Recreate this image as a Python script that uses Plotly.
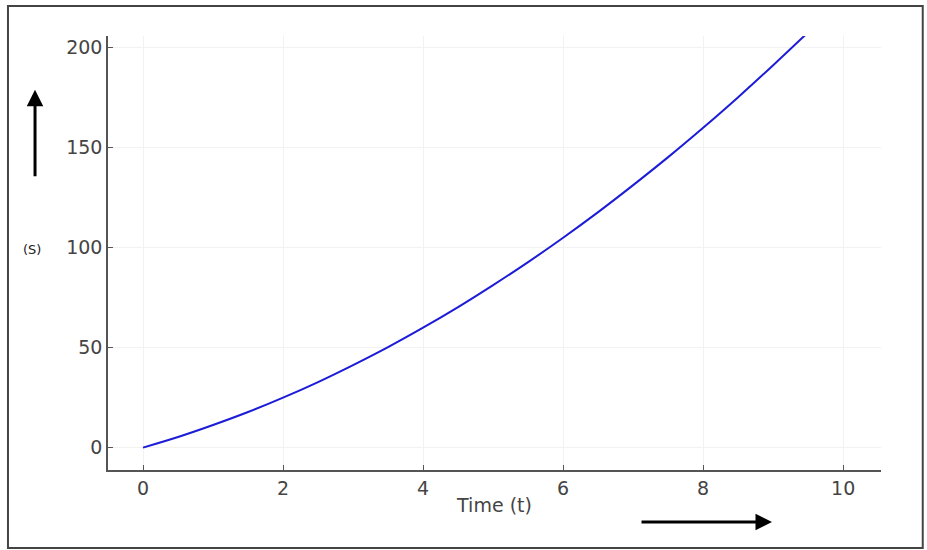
import plotly.graph_objects as go

# distance vs time
time_t = [0, 0.5, 1, 1.5, 2, 2.5, 3, 3.5, 4, 4.5, 5, 5.5, 6, 6.5, 7, 7.5, 8, 8.5, 9, 9.5]
dist_s = [0, 5.3, 11.3, 17.8, 25, 32.8, 41.3, 50.3, 60, 70.3, 81.3, 92.8, 105, 117.8,
          131.3, 145.3, 160, 175.3, 191.3, 207.8]

x_ticks = [0, 2, 4, 6, 8, 10]
y_ticks = [0, 50, 100, 150, 200]

fig = go.Figure()
fig.add_trace(go.Scatter(x=time_t, y=dist_s, mode='lines', line=dict(color='#1c1cd8', width=2, shape='spline'),
                         showlegend=False))

axis_style = dict(showline=True, linecolor='#555555', linewidth=1.5, ticks='inside', ticklen=5,
                  tickcolor='#555555', showgrid=True, gridcolor='#f2f2f2', gridwidth=1, zeroline=False,
                  tickfont=dict(family='DejaVu Sans', size=19, color='#444444'))

fig.update_xaxes(range=[-0.5, 10.54], tickvals=x_ticks, **axis_style,
                 title=dict(text='Time (t)', standoff=1, font=dict(family='DejaVu Sans', size=19, color='#444444')))
fig.update_yaxes(range=[-11.2, 205.9], tickvals=y_ticks, **axis_style)

# outer frame around the whole picture
fig.add_shape(type='rect', xref='paper', yref='paper', x0=-0.1294, x1=1.054, y0=-0.1797, y1=1.069,
              line=dict(color='#444444', width=2))

# direction arrows and the (S) label
fig.add_annotation(x=-0.0944, y=0.876, xref='paper', yref='paper', ax=0, ay=88, showarrow=True,
                   arrowhead=2, arrowsize=1.1, arrowwidth=3, arrowcolor='black', text='')
fig.add_annotation(x=0.859, y=-0.12, xref='paper', yref='paper', ax=-132, ay=0, showarrow=True,
                   arrowhead=2, arrowsize=1.1, arrowwidth=3, arrowcolor='black', text='')
fig.add_annotation(x=-0.0983, y=0.507, xref='paper', yref='paper', text='(S)', showarrow=False,
                   xanchor='center', yanchor='middle',
                   font=dict(family='DejaVu Sans', size=13, color='#222222'))

fig.update_layout(width=927, height=550, plot_bgcolor='white', paper_bgcolor='white',
                  margin=dict(l=108, r=46, t=36, b=80))
fig.write_html("out.html", config={'displayModeBar': False},
               post_script="document.body.style.margin='0px';")
